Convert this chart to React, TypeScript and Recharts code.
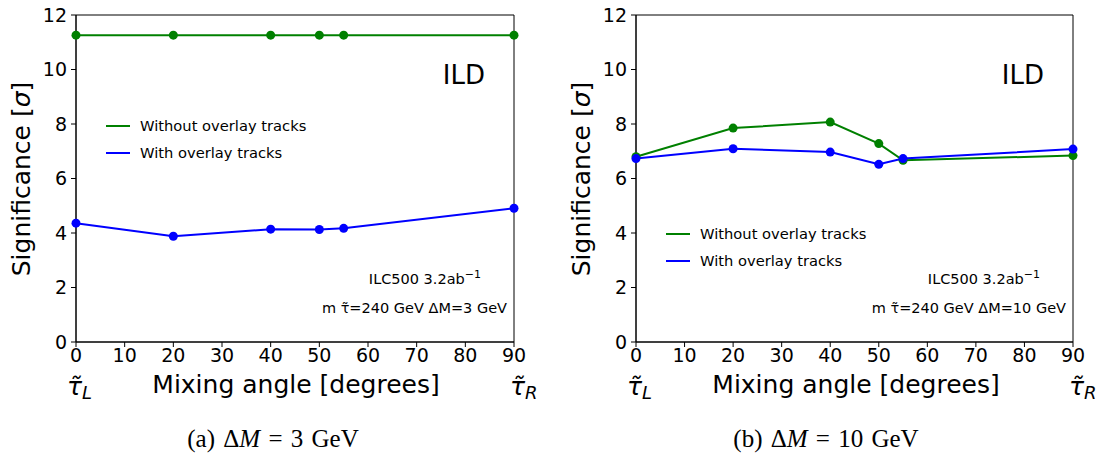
import React from 'react';
import { LineChart, Line, XAxis, YAxis, ReferenceArea } from 'recharts';

const ANGLES = [0, 20, 40, 50, 55, 90];
const A_WITHOUT = [11.26, 11.26, 11.26, 11.26, 11.26, 11.26];
const A_WITH = [4.36, 3.88, 4.14, 4.13, 4.17, 4.91];
const B_WITHOUT = [6.8, 7.85, 8.07, 7.28, 6.67, 6.84];
const B_WITH = [6.73, 7.09, 6.97, 6.52, 6.73, 7.08];
const X_TICKS = [0, 10, 20, 30, 40, 50, 60, 70, 80, 90];
const Y_TICKS = [0, 2, 4, 6, 8, 10, 12];
const SERIES = [
  { key: 'without', name: 'Without overlay tracks', color: '#008000' },
  { key: 'with', name: 'With overlay tracks', color: '#0000ff' },
];

const FONT = '"DejaVu Sans", sans-serif';

const LegendBox = ({ top }: { top: number }) => (
  <div style={{ position: 'absolute', left: 106, top, fontFamily: FONT, fontSize: 14.7, color: '#000' }}>
    {SERIES.map((s) => (
      <div key={s.key} style={{ display: 'flex', alignItems: 'center', height: 27 }}>
        <span style={{ width: 24, height: 2, background: s.color, marginRight: 10 }} />
        <span>{s.name}</span>
      </div>
    ))}
  </div>
);

interface PanelProps {
  left: number;
  width: number;
  without: number[];
  withOv: number[];
  legendTop: number;
  dm: string;
  tag: string;
  captionX: number;
}

const Panel: React.FC<PanelProps> = ({ left, width, without, withOv, legendTop, dm, tag, captionX }) => {
  const data = ANGLES.map((a, i) => ({ angle: a, without: without[i], with: withOv[i] }));
  const plotRight = width - (left === 0 ? 36 : 24);
  return (
    <div style={{ position: 'absolute', left, top: 0, width, height: 454 }}>
      <LineChart
        width={width}
        height={400}
        data={data}
        margin={{ top: 15, right: width - plotRight, left: 20, bottom: 8 }}
      >
        <XAxis
          dataKey="angle"
          type="number"
          domain={[0, 90]}
          ticks={X_TICKS}
          interval={0}
          height={50}
          tickSize={5}
          tickMargin={2}
          stroke="#000"
          tick={{ fill: '#000', fontSize: 19, fontFamily: FONT }}
        />
        <YAxis
          type="number"
          domain={[0, 12]}
          ticks={Y_TICKS}
          interval={0}
          width={56}
          tickSize={5}
          tickMargin={4}
          stroke="#000"
          tick={{ fill: '#000', fontSize: 19, fontFamily: FONT }}
        />
        <ReferenceArea x1={0} x2={90} y1={0} y2={12} fill="none" stroke="#000" strokeWidth={1} />
        {SERIES.map((s) => (
          <Line
            key={s.key}
            dataKey={s.key}
            name={s.name}
            stroke={s.color}
            strokeWidth={2}
            dot={{ r: 4.5, fill: s.color, stroke: s.color, strokeWidth: 0 }}
            isAnimationActive={false}
          />
        ))}
      </LineChart>
      <LegendBox top={legendTop} />
      <svg
        width={width}
        height={454}
        style={{ position: 'absolute', left: 0, top: 0, pointerEvents: 'none' }}
      >
        <text
          x={23}
          y={179}
          transform="rotate(-90 23 179)"
          textAnchor="middle"
          dominantBaseline="middle"
          fontFamily={FONT}
          fontSize={25}
        >
          Significance [<tspan fontStyle="italic">σ</tspan>]
        </text>
        <text x={296} y={393} textAnchor="middle" fontFamily={FONT} fontSize={25}>
          Mixing angle [degrees]
        </text>
        <text x={67} y={395} fontFamily={FONT} fontSize={25} fontStyle="italic">
          τ̃<tspan fontSize={18} dy={4}>L</tspan>
        </text>
        <text x={plotRight - 4} y={395} fontFamily={FONT} fontSize={25} fontStyle="italic">
          τ̃<tspan fontSize={18} dy={4}>R</tspan>
        </text>
        <text x={plotRight - 29} y={84} textAnchor="end" fontFamily={FONT} fontSize={26}>
          ILD
        </text>
        <text x={plotRight - 33} y={284} textAnchor="end" fontFamily={FONT} fontSize={14.5}>
          ILC500 3.2ab<tspan fontSize={11} dy={-6}>−1</tspan>
        </text>
        <text x={plotRight - 7} y={313} textAnchor="end" fontFamily={FONT} fontSize={14.5}>
          m τ̃=240 GeV ΔM={dm} GeV
        </text>
        <text
          x={captionX}
          y={447}
          textAnchor="middle"
          fontFamily='"Liberation Serif", "DejaVu Serif", serif'
          fontSize={25}
          wordSpacing={2}
        >
          ({tag}) Δ<tspan fontStyle="italic">M</tspan> = {dm} GeV
        </text>
      </svg>
    </div>
  );
};

export default function App() {
  return (
    <div
      style={{
        position: 'absolute',
        left: 0,
        top: 0,
        width: 1097,
        height: 454,
        overflow: 'hidden',
        background: '#fff',
      }}
    >
      <Panel
        left={0}
        width={550}
        without={A_WITHOUT}
        withOv={A_WITH}
        legendTop={112}
        dm="3"
        tag="a"
        captionX={273}
      />
      <Panel
        left={560}
        width={537}
        without={B_WITHOUT}
        withOv={B_WITH}
        legendTop={220}
        dm="10"
        tag="b"
        captionX={266}
      />
    </div>
  );
}
